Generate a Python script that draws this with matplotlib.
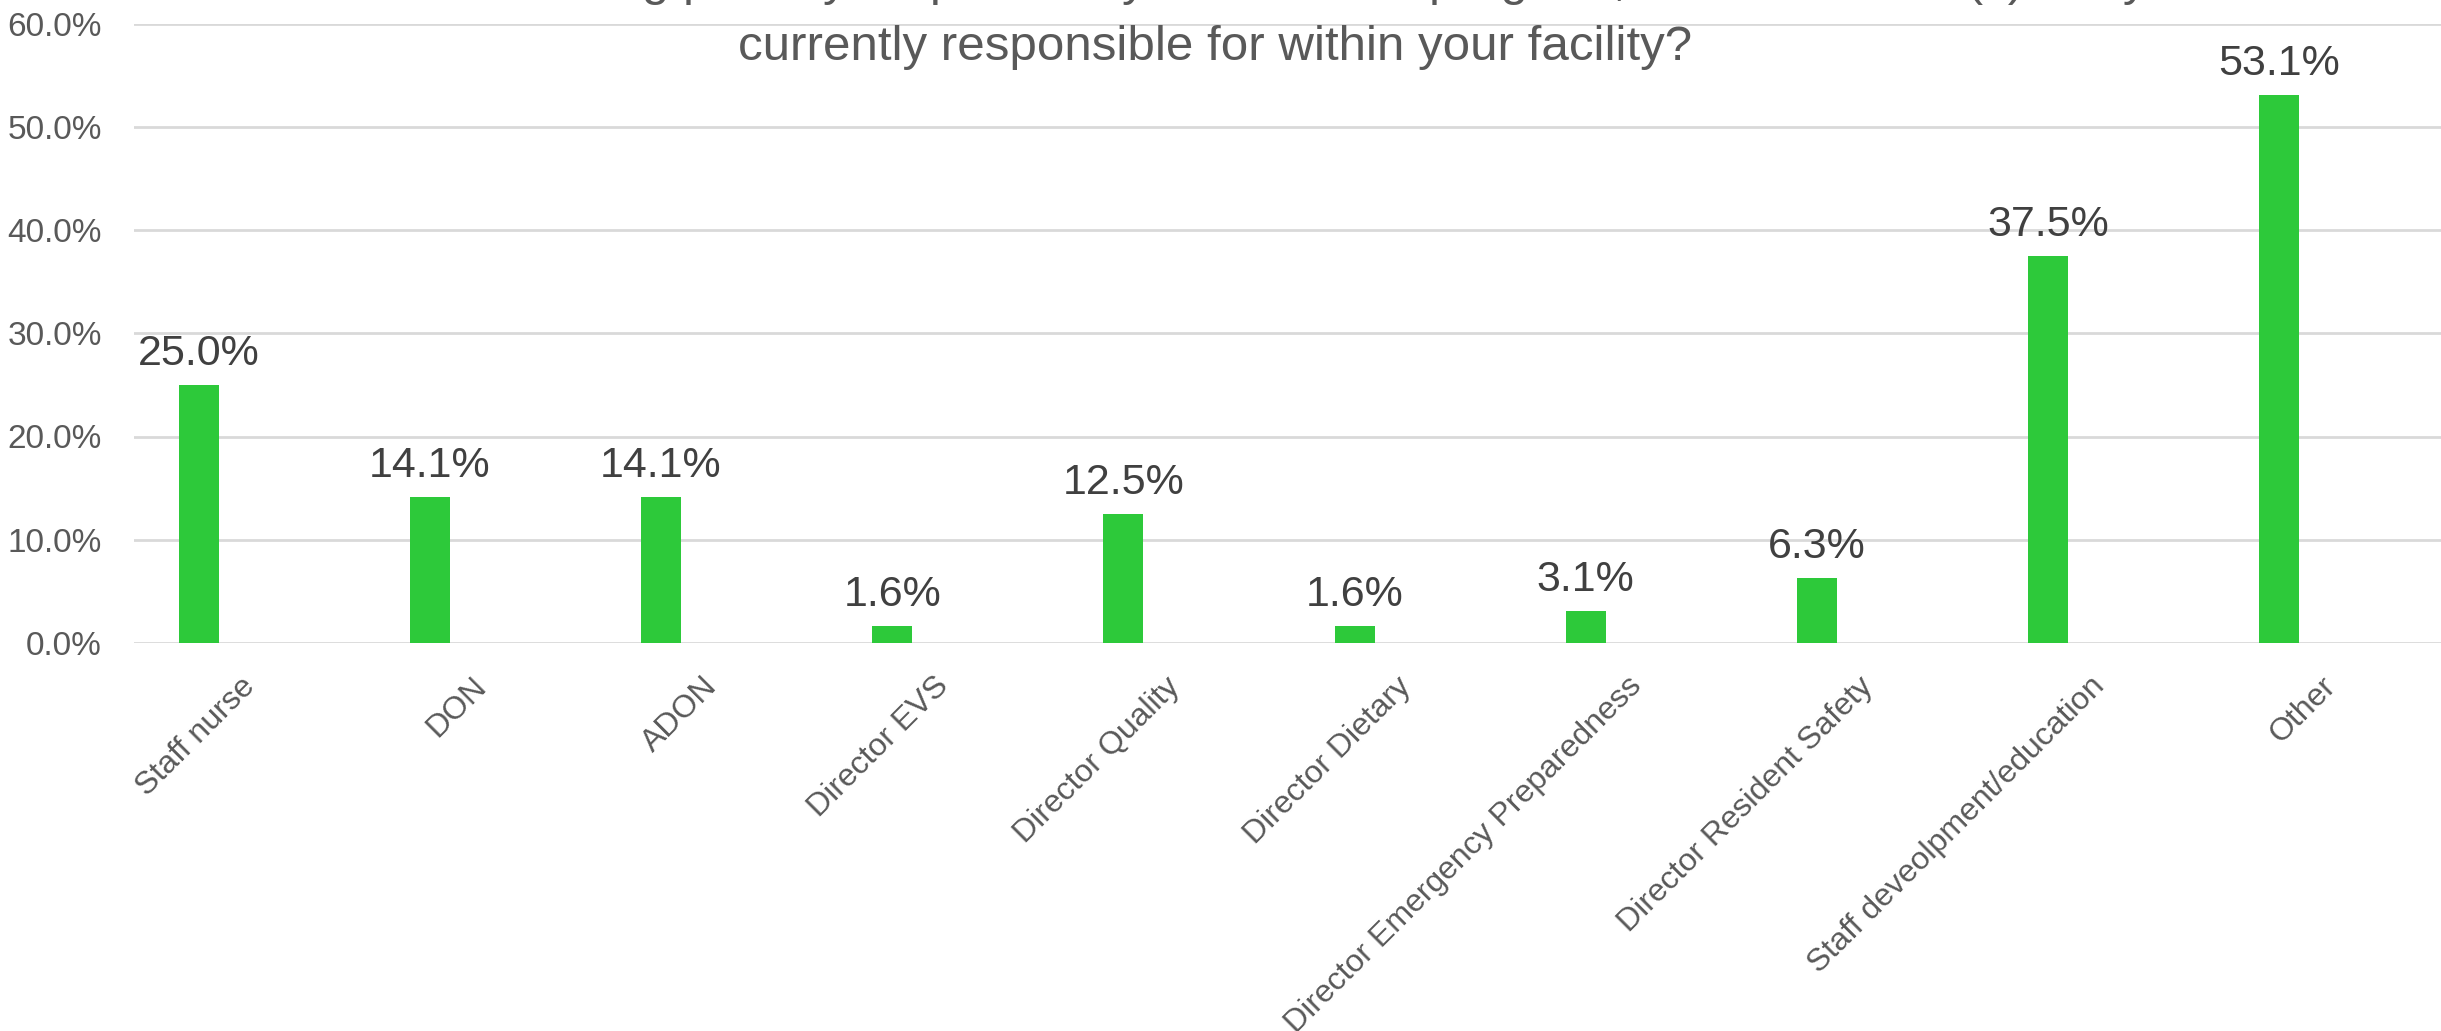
import matplotlib
matplotlib.use("Agg")
import matplotlib.pyplot as plt
import matplotlib.transforms as mtransforms
import numpy as np

plt.rcParams['font.family'] = ['Liberation Sans', 'DejaVu Sans']

roles = ["Staff nurse", "DON", "ADON", "Director EVS", "Director Quality",
         "Director Dietary", "Director Emergency Preparedness",
         "Director Resident Safety", "Staff deveolpment/education", "Other"]
percent = [25.0, 14.1, 14.1, 1.6, 12.5, 1.6, 3.1, 6.3, 37.5, 53.1]
yticks = [0, 10, 20, 30, 40, 50, 60]

title_lines = ["In addition to having primary responsibility for infection program, what other role(s) are you",
               "currently responsible for within your facility?"]

bar_color = "#2DC93A"
grid_color = "#D9D9D9"

fig = plt.figure(figsize=(24.41, 10.31), dpi=100)
# axes box in pixels: left 134, right 2441, bottom 643 (from top), top 23
W, H = 2441, 1031
ax = fig.add_axes([134 / W, 1 - 643 / H, (2441 - 134) / W, (643 - 23.5) / H])

x = np.arange(len(roles))
ax.bar(x, percent, width=0.173, color=bar_color, zorder=3)

ax.set_xlim(-0.28, 9.70)
ax.set_ylim(0, 60)
ax.set_yticks(yticks)
ax.set_yticklabels([f"{v:.1f}%" for v in yticks], fontsize=24, color="#595959")
ax.yaxis.grid(True, color=grid_color, linewidth=2)
ax.set_axisbelow(True)
ax.tick_params(axis="both", length=0)
ax.tick_params(axis="y", pad=23)
ax.set_xticks([])
for s in ax.spines.values():
    s.set_visible(False)

# data labels above bars
for xi, v in zip(x, percent):
    ax.annotate(f"{v:.1f}%", (xi, v), xytext=(0, 8), textcoords="offset points",
                ha="center", va="bottom", fontsize=31, color="#404040")

# rotated category labels, right end hung just below-right of each bar
offset = mtransforms.ScaledTranslation(52 / 100, -39 / 100, fig.dpi_scale_trans)
for xi, role in zip(x, roles):
    ax.text(xi, 0, role, transform=ax.get_xaxis_transform() + offset,
            rotation=45, rotation_mode="anchor", ha="right", va="center",
            fontsize=23, color="#595959", clip_on=False)

# two-line title, first line runs off the top edge
fig.text(0.4977, 1 + 5 / H, title_lines[0], ha="center", va="baseline",
         fontsize=35.5, color="#595959")
fig.text(0.4977, 1 - 60 / H, title_lines[1], ha="center", va="baseline",
         fontsize=35.5, color="#595959")

fig.savefig("out.png", dpi=100)
